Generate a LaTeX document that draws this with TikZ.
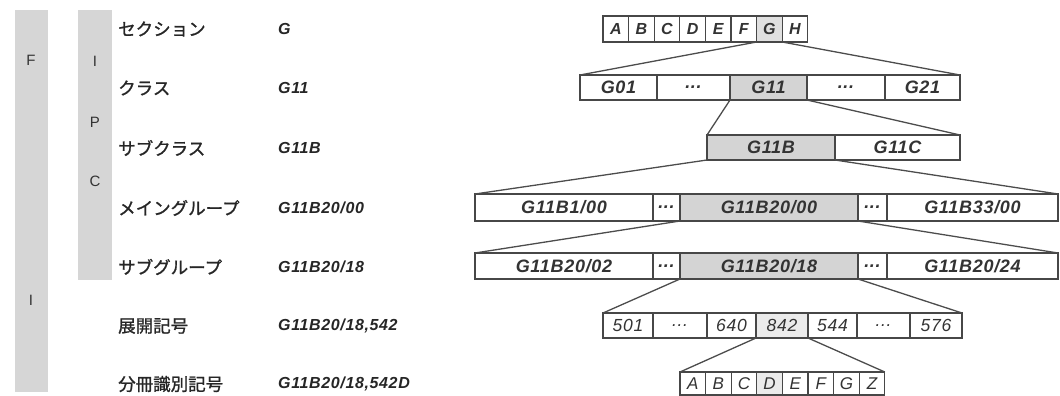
\documentclass[tikz,border=0pt]{standalone}
\usepackage{fontspec}
\newfontfamily\jpfont[FakeBold=1.2]{Noto Sans CJK JP}
\newfontfamily\codefont[LetterSpace=4]{Liberation Sans}
\newfontfamily\plainfont{Liberation Sans}
\newcommand\cellbox[7]{%
  \node[cell, fill=#7, minimum width={(#3-#2)*1pt}, minimum height={(#5-#4)*1pt}] (#1) at (#2,#4) {#6};}
\begin{document}
\begin{tikzpicture}[x=1pt,y=-1pt,
  strip/.style={fill=black!16, draw=none, anchor=north west, inner sep=0pt, outer sep=0pt},
  stripletter/.style={font=\plainfont\fontsize{15}{15}\selectfont, text=black!80, inner sep=0pt},
  jplabel/.style={font=\jpfont\fontsize{17.5}{18}\selectfont, text=black!85, anchor=west, inner sep=0pt},
  codelabel/.style={font=\codefont\bfseries\itshape\fontsize{16}{16}\selectfont, text=black!85, anchor=west, inner sep=0pt},
  cell/.style={draw=black!72, line width=1.3pt, inner sep=0pt, outer sep=0pt, anchor=north west,
    font=\codefont\bfseries\itshape\fontsize{18}{18}\selectfont, text=black!80},
  conn/.style={draw=black!70, line width=1.3pt}]
\useasboundingbox (0,0) rectangle (1060,396);

% left strips
\node[strip, minimum width=33pt, minimum height=382pt] (fstrip) at (15,10) {};
\node[strip, minimum width=34pt, minimum height=270pt] (ipcstrip) at (78,10) {};
\node[stripletter] (lf) at (31,60) {F};
\node[stripletter] (li2) at (31,300) {I};
\node[stripletter] (li) at (95,61) {I};
\node[stripletter] (lp) at (95,122) {P};
\node[stripletter] (lc) at (95,181) {C};

% row labels
\node[jplabel] (j1) at (118,29) {セクション};
\node[jplabel] (j2) at (118,88) {クラス};
\node[jplabel] (j3) at (118,148) {サブクラス};
\node[jplabel] (j4) at (118,208) {メイングループ};
\node[jplabel] (j5) at (118,267) {サブグループ};
\node[jplabel] (j6) at (118,326) {展開記号};
\node[jplabel] (j7) at (118,384) {分冊識別記号};
\node[codelabel] (k1) at (278,29) {G};
\node[codelabel] (k2) at (278,88) {G11};
\node[codelabel] (k3) at (278,148) {G11B};
\node[codelabel] (k4) at (278,208) {G11B20/00};
\node[codelabel] (k5) at (278,267) {G11B20/18};
\node[codelabel] (k6) at (278,326) {G11B20/18,542};
\node[codelabel] (k7) at (278,384) {G11B20/18,542D};

% row 1: sections
\begin{scope}[cell/.append style={font=\codefont\bfseries\itshape\fontsize{16}{16}\selectfont}]
\foreach \t [count=\i] in {A,B,C,D,E,F,G,H}{
  \pgfmathsetmacro{\xa}{603+25.6*(\i-1)}
  \pgfmathsetmacro{\xb}{603+25.6*\i}
  \ifnum\i=7 \def\fc{black!12}\else\def\fc{white}\fi
  \cellbox{s\i}{\xa}{\xb}{16}{42}{\t}{\fc}
}
\end{scope}
% row 2: classes
\cellbox{c1}{580}{657}{75}{100}{G01}{white}
\cellbox{c2}{657}{730}{75}{100}{...}{white}
\cellbox{c3}{730}{807}{75}{100}{G11}{black!17}
\cellbox{c4}{807}{885}{75}{100}{...}{white}
\cellbox{c5}{885}{960}{75}{100}{G21}{white}
% row 3: subclasses
\cellbox{b1}{707}{835}{135}{160}{G11B}{black!17}
\cellbox{b2}{835}{960}{135}{160}{G11C}{white}
% row 4: main groups
\cellbox{m1}{475}{653}{194}{221}{G11B1/00}{white}
\cellbox{m2}{653}{680}{194}{221}{...}{white}
\cellbox{m3}{680}{858}{194}{221}{G11B20/00}{black!17}
\cellbox{m4}{858}{887}{194}{221}{...}{white}
\cellbox{m5}{887}{1058}{194}{221}{G11B33/00}{white}
% row 5: subgroups
\cellbox{g1}{475}{653}{253}{279}{G11B20/02}{white}
\cellbox{g2}{653}{680}{253}{279}{...}{white}
\cellbox{g3}{680}{858}{253}{279}{G11B20/18}{black!17}
\cellbox{g4}{858}{887}{253}{279}{...}{white}
\cellbox{g5}{887}{1058}{253}{279}{G11B20/24}{white}
% row 6: indexing codes
\begin{scope}[cell/.append style={font=\codefont\itshape\fontsize{17.5}{18}\selectfont}]
\cellbox{n1}{603}{653}{313}{338}{501}{white}
\cellbox{n2}{653}{707}{313}{338}{...}{white}
\cellbox{n3}{707}{756}{313}{338}{640}{white}
\cellbox{n4}{756}{808}{313}{338}{842}{black!8}
\cellbox{n5}{808}{857}{313}{338}{544}{white}
\cellbox{n6}{857}{910}{313}{338}{...}{white}
\cellbox{n7}{910}{962}{313}{338}{576}{white}
\end{scope}
% row 7: file discrimination
\begin{scope}[cell/.append style={font=\codefont\itshape\fontsize{17}{17}\selectfont}]
\foreach \t [count=\i] in {A,B,C,D,E,F,G,Z}{
  \pgfmathsetmacro{\xa}{680+25.6*(\i-1)}
  \pgfmathsetmacro{\xb}{680+25.6*\i}
  \ifnum\i=4 \def\fc{black!8}\else\def\fc{white}\fi
  \cellbox{d\i}{\xa}{\xb}{372}{395}{\t}{\fc}
}
\end{scope}

% connectors
\draw[conn] (s7.south west) -- (c1.north west);
\draw[conn] (s7.south east) -- (c5.north east);
\draw[conn] (c3.south west) -- (b1.north west);
\draw[conn] (c3.south east) -- (b2.north east);
\draw[conn] (b1.south west) -- (m1.north west);
\draw[conn] (b1.south east) -- (m5.north east);
\draw[conn] (m3.south west) -- (g1.north west);
\draw[conn] (m3.south east) -- (g5.north east);
\draw[conn] (g3.south west) -- (n1.north west);
\draw[conn] (g3.south east) -- (n7.north east);
\draw[conn] (n4.south west) -- (d1.north west);
\draw[conn] (n4.south east) -- (d8.north east);
\end{tikzpicture}
\end{document}
